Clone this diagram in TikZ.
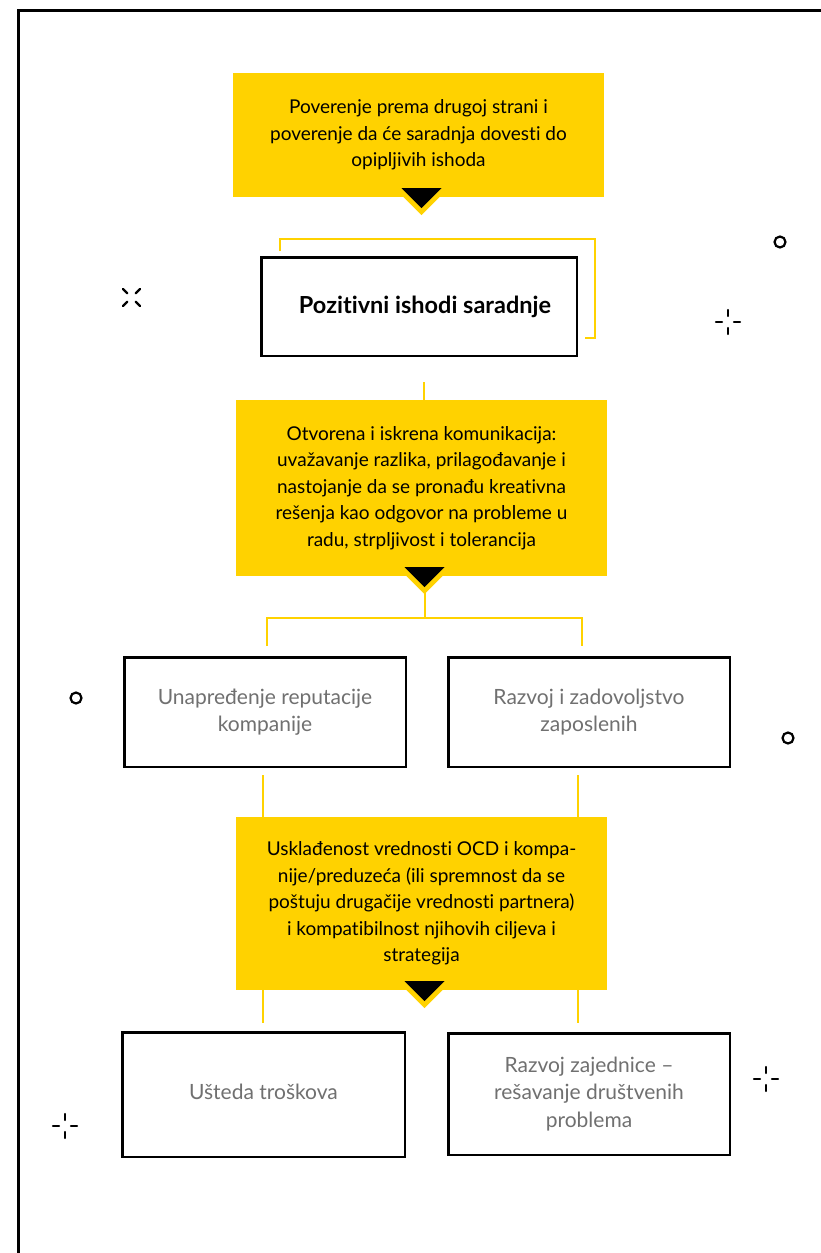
\documentclass[tikz,border=0pt]{standalone}
\usepackage{fontspec}
\setmainfont{Lato}[Ligatures=NoCommon]
\usepackage{xcolor}
\usetikzlibrary{calc}
\definecolor{ocdyellow}{HTML}{FFD200}
\definecolor{boxgray}{HTML}{707070}

\begin{document}
\begin{tikzpicture}[x=1pt,y=-1pt,
	ybox/.style={fill=ocdyellow,inner sep=0pt,align=center,
		font=\fontsize{19}{26.5}\selectfont},
	wbox/.style={draw=black,line width=2.5pt,fill=white,inner sep=0pt,
		align=center,text=boxgray,font=\fontsize{21}{27.5}\selectfont},
	yline/.style={draw=ocdyellow,line width=2pt},
	decor/.style={line width=2.2pt,line cap=round}]
					\useasboundingbox (0,0) rectangle (821,1253);
					\draw[line width=2.5pt] (18.5,1253) -- (18.5,10.5) -- (821,10.5);

					% top of the chart
					\node[ybox,minimum width=371,minimum height=124] (trust) at (418.5,135)
						{Poverenje prema drugoj strani i\\
						 poverenje da će saradnja dovesti do\\
						 opipljivih ishoda};
					\node[wbox,minimum width=315.5,minimum height=98.5,text=black,
						font=\fontsize{23.5}{27}\selectfont\bfseries] (outcomes) at (419,306.5)
						{\hspace*{12pt}Pozitivni ishodi saradnje};
					\draw[yline] ($(outcomes.north west)+(20,-5)$) -- ++(0,-12)
						-| ($(outcomes.south east)+(17,-19)$) -- ++(-10,0);
					\draw[yline] ($(outcomes.south)+(5,25)$) -- ++(0,18);

					\node[ybox,minimum width=371,minimum height=176] (comm) at (421.5,488)
						{Otvorena i iskrena komunikacija:\\
						 uvažavanje razlika, prilagođavanje i\\
						 nastojanje da se pronađu kreativna\\
						 rešenja kao odgovor na probleme u\\
						 radu, strpljivost i tolerancija};

					% middle row
					\node[wbox,minimum width=281.5,minimum height=109.5] (reput) at (265,712)
						{Unapređenje reputacije\\kompanije};
					\node[wbox,minimum width=281.5,minimum height=109.5] (staff) at (589,712)
						{Razvoj i zadovoljstvo\\zaposlenih};
					\draw[yline] ($(comm.south)+(3,16)$) -- ++(0,26) coordinate (split);
					\draw[yline] ($(reput.north)+(2,-10)$) |- (split)
						-| ($(staff.north)+(-7,-10)$);
					\draw[yline] ($(reput.south)+(-2,7)$) -- ++(0,248);
					\draw[yline] ($(staff.south)+(-11,7)$) -- ++(0,248);

					\node[ybox,minimum width=371,minimum height=173] (values) at (421.5,903.5)
						{Usklađenost vrednosti OCD i kompa-\\
						 nije/preduzeća (ili spremnost da se\\
						 poštuju drugačije vrednosti partnera)\\
						 i kompatibilnost njihovih ciljeva i\\
						 strategija};

					% bottom row
					\node[wbox,minimum width=282.5,minimum height=124.5] (costs) at (263.5,1094.5)
						{\raisebox{5pt}{Ušteda troškova}};
					\node[wbox,minimum width=281.5,minimum height=121.5] (community) at (589,1094)
						{Razvoj zajednice –\\rešavanje društvenih\\problema};

					% arrow heads under the yellow boxes
					\foreach \b in {trust,comm,values} {
						\fill[ocdyellow] ($(\b.south)+(-24,-9)$) -- ++(54,0) -- ++(-27,27) -- cycle;
						\fill[black] ($(\b.south)+(-17,-9)$) -- ++(40,0) -- ++(-20,20) -- cycle;
					}

					% scattered marks
					\foreach \x/\y in {780/242,76/698,788/738}
						\draw[decor] (\x,\y) circle[radius=5.5];
					\foreach \x/\y/\r in {728/322/0,766/1079/0,65/1126/0,131.5/297.5/45}
						\draw[decor,shift={(\x,\y)},rotate=\r]
							(-12,0) -- (-6,0) (6,0) -- (12,0) (0,-12) -- (0,-6) (0,6) -- (0,12);
				\end{tikzpicture}
\end{document}
